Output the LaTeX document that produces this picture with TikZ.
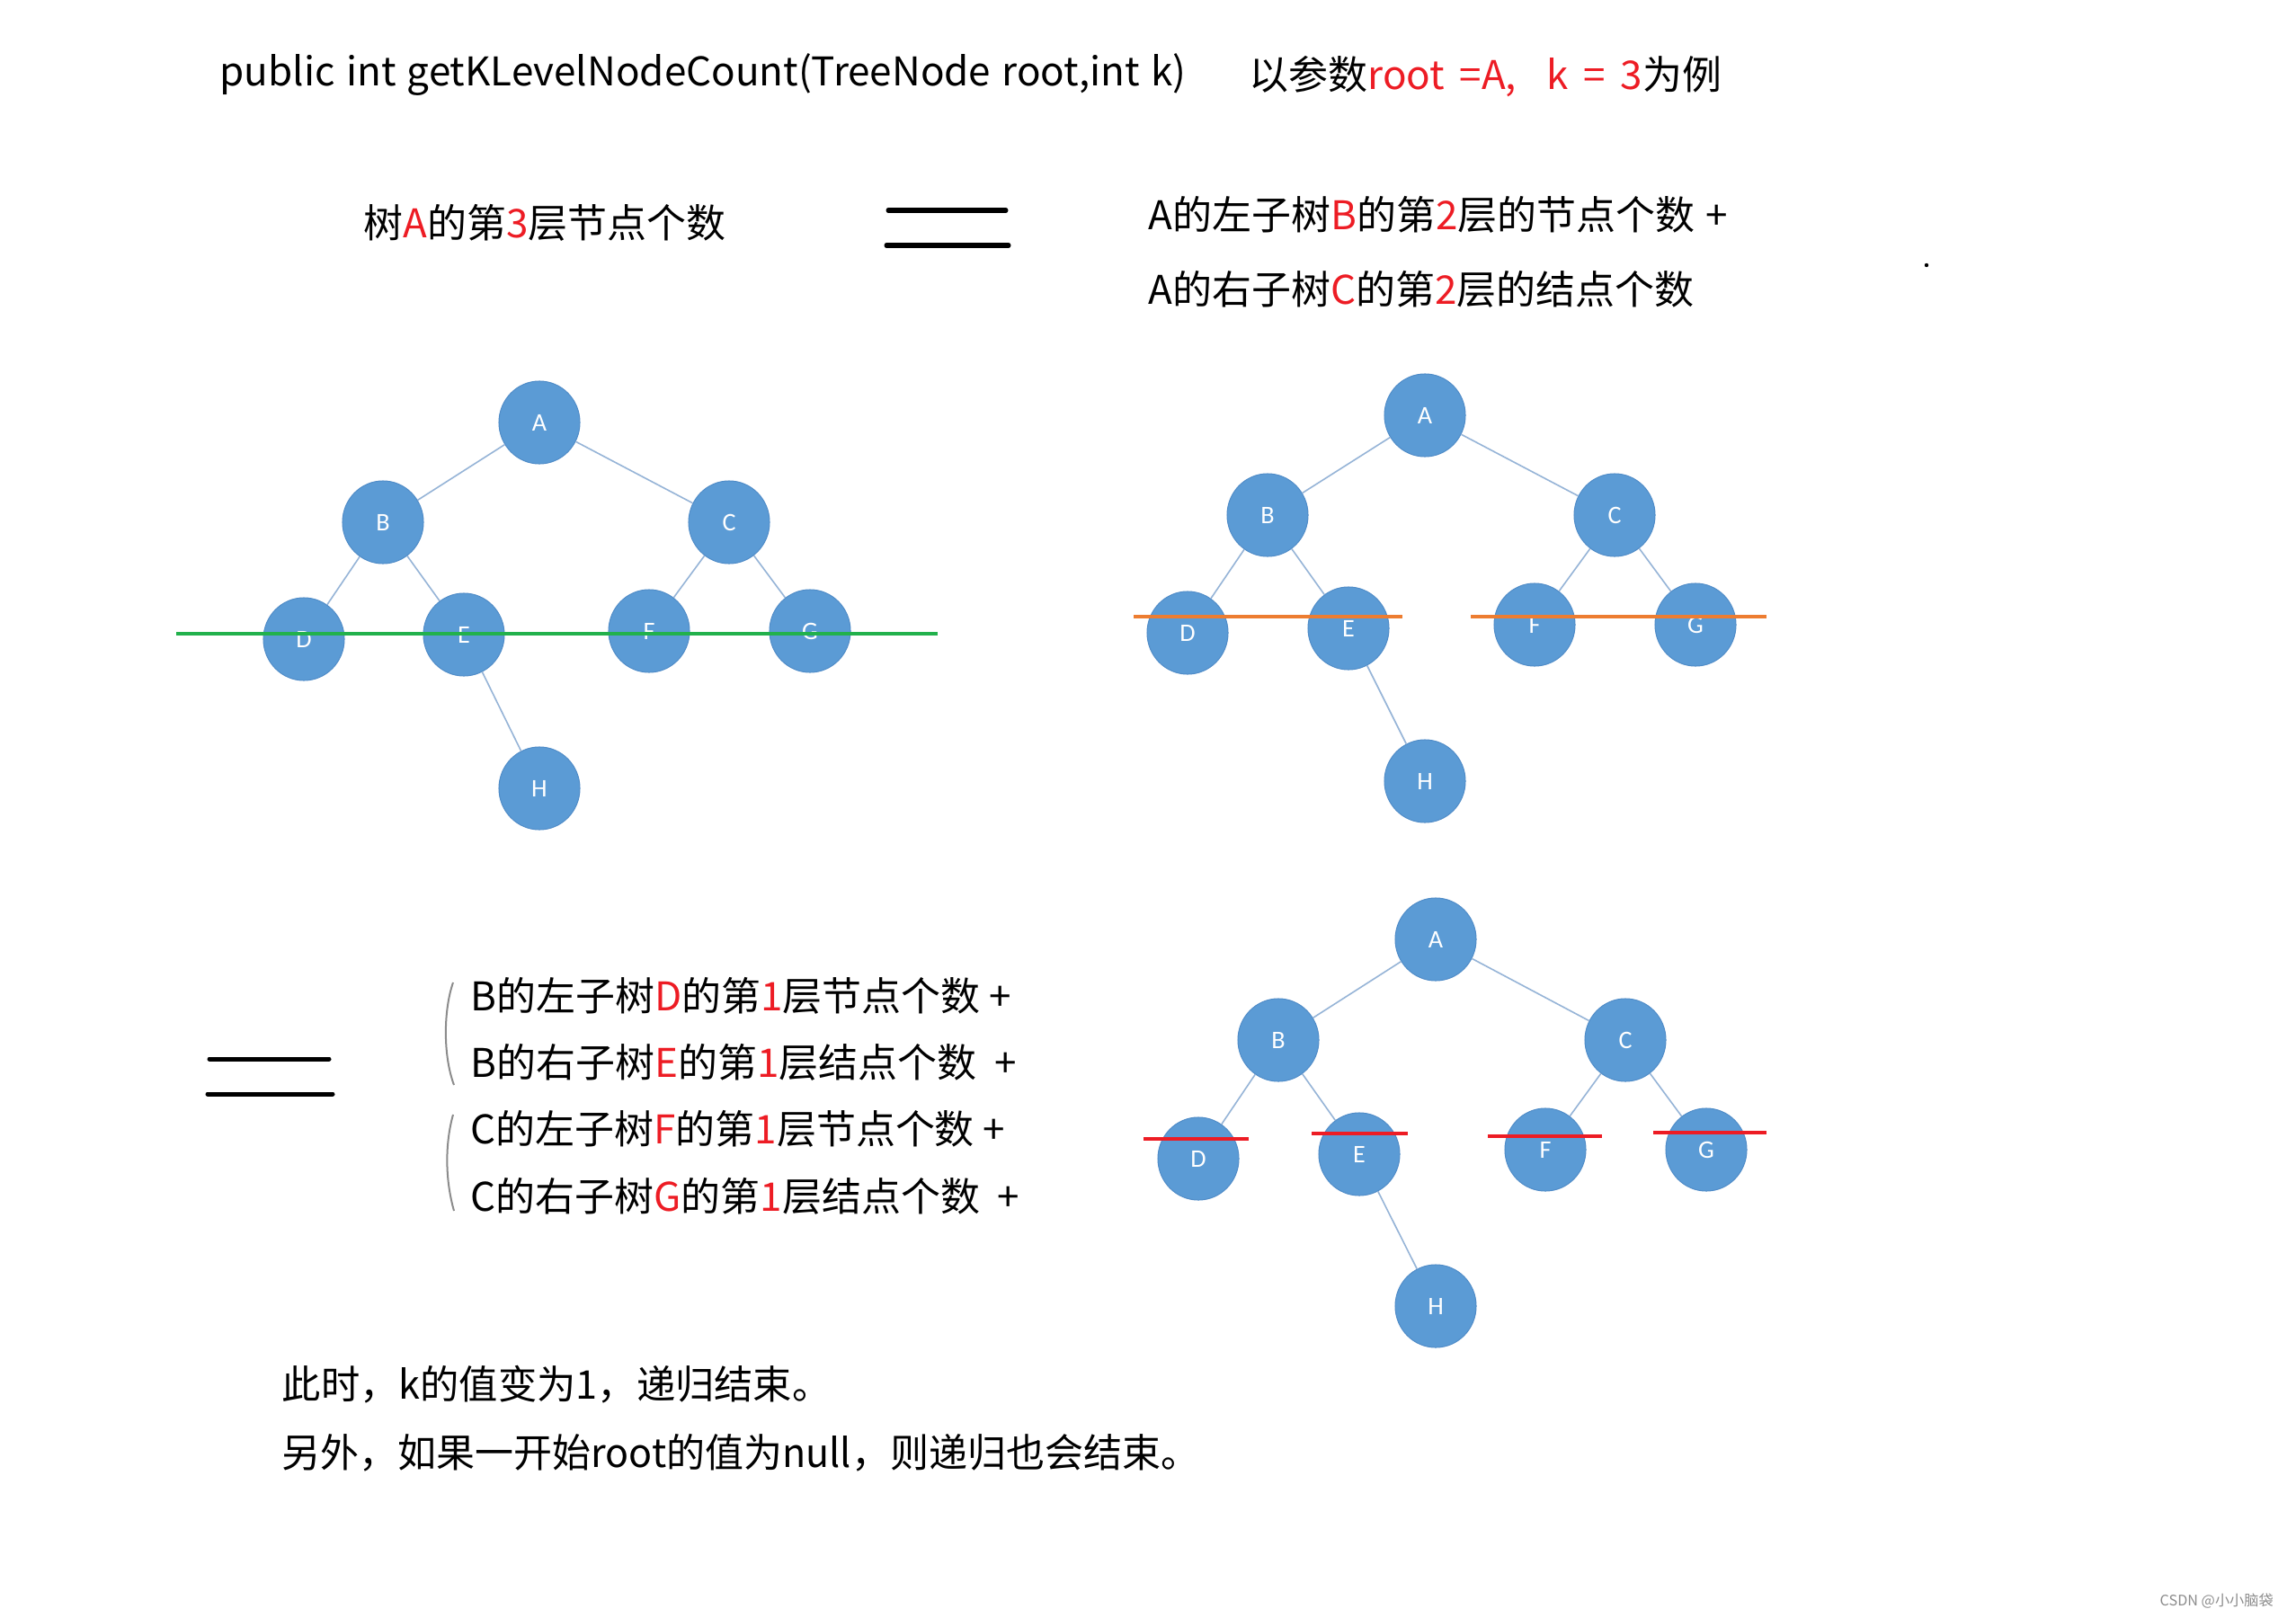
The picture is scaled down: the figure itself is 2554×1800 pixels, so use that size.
\documentclass[tikz,border=0pt]{standalone}
\usepackage{fontspec}
\setmainfont{Noto Sans CJK SC}
\newfontfamily\labfont{Carlito}
\usetikzlibrary{shapes.geometric}
\definecolor{nodeblue}{RGB}{91,155,213}
\definecolor{nodeline}{RGB}{80,140,200}
\definecolor{edgeblue}{RGB}{150,180,215}
\definecolor{txtred}{RGB}{237,28,36}
\definecolor{lgreen}{RGB}{34,177,76}
\definecolor{lorange}{RGB}{237,125,49}
\definecolor{bracketgray}{RGB}{140,140,140}
\newcommand{\rd}[1]{\textcolor{txtred}{#1}}
\newcommand{\mytxtfont}{\fontsize{12.5pt}{15pt}\selectfont}
\newcommand{\widesp}{\spaceskip=0.28em plus 0.05em\relax}
\newcommand{\widersp}{\spaceskip=0.38em plus 0.05em\relax}
\tikzset{
  tnode/.style={ellipse, fill=nodeblue, draw=nodeline, line width=0.01cm, minimum width=0.9cm, minimum height=0.92cm, inner sep=0pt, text=white, font=\labfont\fontsize{8pt}{9pt}\selectfont},
  tedge/.style={draw=edgeblue, line width=0.016cm},
  txt/.style={anchor=west, inner sep=0pt, font=\mytxtfont},
  eqline/.style={line width=0.05cm, line cap=round},
  strike/.style={line width=0.04cm},
}
\begin{document}
\begin{tikzpicture}[x=0.01cm, y=-0.01cm]
\useasboundingbox (0,0) rectangle (2554,1800);
\fill[white] (0,0) rectangle (2554,1800);

% header texts
\node[txt] (title) at (244,83) {\widesp public int getKLevelNodeCount(TreeNode root,int k)};
\node[txt] (example) at (1389,85) {\widersp 以参数\rd{root =A,\ \ k = 3}为例};
\node[txt] (lhs) at (404,248) {树\rd{A}的第\rd{3}层节点个数};
\node[txt] (rhs1) at (1277,239) {\widesp A的左子树\rd{B}的第\rd{2}层的节点个数 +};
\node[txt] (rhs2) at (1277,322) {A的右子树\rd{C}的第\rd{2}层的结点个数};
\fill (2143,295) circle (2.2);

% first equals sign
\coordinate (e1a) at (988,234); \coordinate (e1b) at (1119,234);
\coordinate (e1c) at (986,273); \coordinate (e1d) at (1122,273);
\draw[eqline] (e1a) -- (e1b);
\draw[eqline] (e1c) -- (e1d);

% tree 1
\node[tnode] (a1) at (600,470) {A};
\node[tnode] (b1) at (426,581) {B};
\node[tnode] (c1) at (811,581) {C};
\node[tnode] (d1) at (338,711) {D};
\node[tnode] (e1) at (516,706) {E};
\node[tnode] (f1) at (722,702) {F};
\node[tnode] (g1) at (901,702) {G};
\node[tnode] (h1) at (600,877) {H};
\draw[tedge] (a1) -- (b1);
\draw[tedge] (a1) -- (c1);
\draw[tedge] (b1) -- (d1);
\draw[tedge] (b1) -- (e1);
\draw[tedge] (c1) -- (f1);
\draw[tedge] (c1) -- (g1);
\draw[tedge] (e1) -- (h1);
\coordinate (g1l) at (196,705); \coordinate (g1r) at (1043,705);
\draw[lgreen, line width=0.035cm] (g1l) -- (g1r);

% tree 2
\node[tnode] (a2) at (1585,462) {A};
\node[tnode] (b2) at (1410,573) {B};
\node[tnode] (c2) at (1796,573) {C};
\node[tnode] (d2) at (1321,704) {D};
\node[tnode] (e2) at (1500,699) {E};
\node[tnode] (f2) at (1707,695) {F};
\node[tnode] (g2) at (1886,695) {G};
\node[tnode] (h2) at (1585,869) {H};
\draw[tedge] (a2) -- (b2);
\draw[tedge] (a2) -- (c2);
\draw[tedge] (b2) -- (d2);
\draw[tedge] (b2) -- (e2);
\draw[tedge] (c2) -- (f2);
\draw[tedge] (c2) -- (g2);
\draw[tedge] (e2) -- (h2);
\coordinate (o1l) at (1261,686); \coordinate (o1r) at (1560,686);
\coordinate (o2l) at (1636,686); \coordinate (o2r) at (1965,686);
\draw[lorange, line width=0.035cm] (o1l) -- (o1r);
\draw[lorange, line width=0.035cm] (o2l) -- (o2r);

% second equals sign and brackets
\coordinate (e2a) at (233,1178); \coordinate (e2b) at (366,1178);
\coordinate (e2c) at (231,1217); \coordinate (e2d) at (370,1217);
\draw[eqline] (e2a) -- (e2b);
\draw[eqline] (e2c) -- (e2d);
\coordinate (br1t) at (504,1093); \coordinate (br1b) at (505,1207);
\coordinate (br2t) at (504,1240); \coordinate (br2b) at (505,1347);
\draw[bracketgray, line width=0.02cm] (br1t) .. controls (493,1125) and (493,1175) .. (br1b);
\draw[bracketgray, line width=0.02cm] (br2t) .. controls (495,1272) and (495,1312) .. (br2b);

\node[txt] (s1) at (523,1108) {B的左子树\rd{D}的第\rd{1}层节点个数 +};
\node[txt] (s2) at (523,1182) {B的右子树\rd{E}的第\rd{1}层结点个数\ \ +};
\node[txt] (s3) at (523,1256) {C的左子树\rd{F}的第\rd{1}层节点个数 +};
\node[txt] (s4) at (523,1331) {C的右子树\rd{G}的第\rd{1}层结点个数\ \ +};

% tree 3
\node[tnode] (a3) at (1597,1045) {A};
\node[tnode] (b3) at (1422,1157) {B};
\node[tnode] (c3) at (1808,1157) {C};
\node[tnode] (d3) at (1333,1289) {D};
\node[tnode] (e3) at (1512,1284) {E};
\node[tnode] (f3) at (1719,1279) {F};
\node[tnode] (g3) at (1898,1279) {G};
\node[tnode] (h3) at (1597,1453) {H};
\draw[tedge] (a3) -- (b3);
\draw[tedge] (a3) -- (c3);
\draw[tedge] (b3) -- (d3);
\draw[tedge] (b3) -- (e3);
\draw[tedge] (c3) -- (f3);
\draw[tedge] (c3) -- (g3);
\draw[tedge] (e3) -- (h3);
\coordinate (r1l) at (1272,1267); \coordinate (r1r) at (1389,1267);
\coordinate (r2l) at (1459,1261); \coordinate (r2r) at (1566,1261);
\coordinate (r3l) at (1655,1264); \coordinate (r3r) at (1782,1264);
\coordinate (r4l) at (1839,1260); \coordinate (r4r) at (1965,1260);
\draw[txtred, strike] (r1l) -- (r1r);
\draw[txtred, strike] (r2l) -- (r2r);
\draw[txtred, strike] (r3l) -- (r3r);
\draw[txtred, strike] (r4l) -- (r4r);

% conclusion
\node[txt] (c1txt) at (313,1540) {\scalebox{0.985}[1]{此时，k的值变为1，递归结束。}};
\node[txt] (c2txt) at (313,1616) {\scalebox{0.978}[1]{另外，如果一开始root的值为null，则递归也会结束。}};

% watermark
\node[anchor=west, inner sep=0pt, text=black!45, font=\fontsize{4.6pt}{5pt}\selectfont] (wm) at (2402,1781) {CSDN @小小脑袋};
\end{tikzpicture}
\end{document}
